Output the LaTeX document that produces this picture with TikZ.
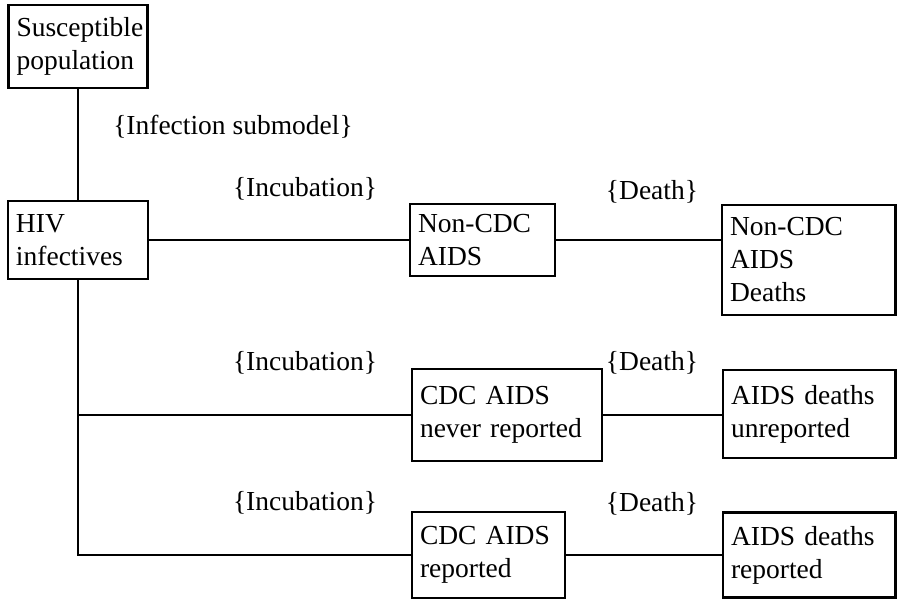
\documentclass[tikz,border=0pt]{standalone}
\usepackage{fontspec}
\setmainfont{Liberation Serif}
\begin{document}
\begin{tikzpicture}[x=1pt,y=-1pt,
    box/.style={draw, line width=2.8pt, inner xsep=8pt, inner ysep=0pt, align=left, font=\fontsize{27.5}{33}\selectfont},
    lbl/.style={inner sep=0pt, font=\fontsize{27.5}{33}\selectfont},
    conn/.style={line width=2.8pt}]
  \useasboundingbox (0,0) rectangle (897,599);
  % compartments
  \node[box, text width=123pt, minimum height=83pt] (sus) at (78,46.5) {Susceptible\\population};
  \node[box, text width=124pt, minimum height=78pt] (hiv) at (78,240) {HIV\\infectives};
  \node[box, text width=129pt, minimum height=72pt] (nonaids) at (482.5,240) {Non-CDC\\AIDS};
  \node[box, text width=157.5pt, minimum height=110pt] (nondeath) at (808.75,260) {Non-CDC\\AIDS\\Deaths};
  \node[box, text width=174pt, minimum height=92pt] (cdcnever) at (507,415) {CDC AIDS\\never reported};
  \node[box, text width=156.5pt, minimum height=88pt] (unrep) at (809.25,414) {AIDS deaths\\unreported};
  \node[box, text width=137pt, minimum height=86pt] (cdcrep) at (488.5,555) {CDC AIDS\\reported};
  \node[box, text width=156.5pt, minimum height=85pt] (rep) at (809.25,555) {AIDS deaths\\reported};
  % transition labels
  \node[lbl] (infsub) at (233,127) {\{Infection submodel\}};
  \node[lbl] (incA) at (305,189) {\{Incubation\}};
  \node[lbl] (incB) at (305,363) {\{Incubation\}};
  \node[lbl] (incC) at (305,503) {\{Incubation\}};
  \node[lbl] (dthA) at (652,192) {\{Death\}};
  \node[lbl] (dthB) at (652,363) {\{Death\}};
  \node[lbl] (dthC) at (652,504) {\{Death\}};
  % flows
  \draw[conn] (sus) -- (hiv);
  \draw[conn] (hiv) -- (nonaids);
  \draw[conn] (nonaids) -- (nonaids -| nondeath.west);
  \draw[conn] (hiv.south) |- (cdcnever.west);
  \draw[conn] (hiv.south) |- (cdcrep.west);
  \draw[conn] (cdcnever) -- (cdcnever -| unrep.west);
  \draw[conn] (cdcrep) -- (rep);
\end{tikzpicture}
\end{document}
